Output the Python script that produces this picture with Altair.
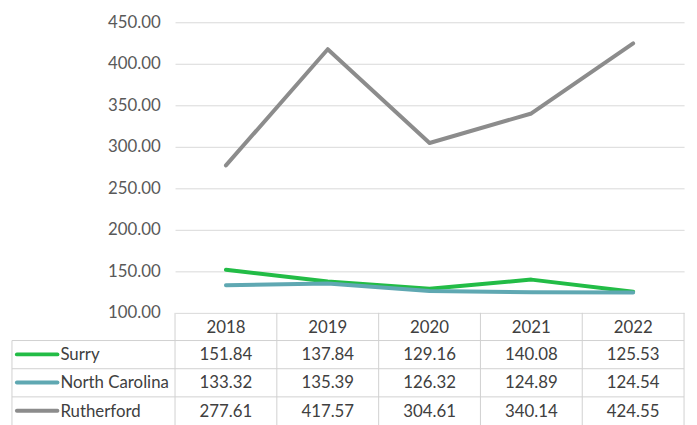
import altair as alt
import pandas as pd

years = [2018, 2019, 2020, 2021, 2022]
series = ["Surry", "North Carolina", "Rutherford"]
surry = [151.84, 137.84, 129.16, 140.08, 125.53]
north_carolina = [133.32, 135.39, 126.32, 124.89, 124.54]
rutherford = [277.61, 417.57, 304.61, 340.14, 424.55]
colors = ["#22BC46", "#5FA8B2", "#8C8C8C"]
y_ticks = [100, 150, 200, 250, 300, 350, 400, 450]

values_by_series = [surry, north_carolina, rutherford]

W, H = 515, 294
FONT = "Lato"
FS = 17
TABLE_LINE = "#D0D0D0"
TEXT = "#404040"

xscale = alt.Scale(domain=[years[0] - 0.5, years[-1] + 0.5], nice=False, zero=False)
yscale = alt.Scale(domain=[y_ticks[0], y_ticks[-1]], nice=False, zero=False)

# table geometry (pixels relative to plot area)
row_top = [H, H + 28, H + 56.5, H + 85]
row_mid = [H + 15, H + 43, H + 71.5, H + 100]
left_edge = -165
bottom = H + 130

layers = []

axis_df = pd.DataFrame({"v": y_ticks})
axis_layer = alt.Chart(axis_df).mark_point(opacity=0).encode(
    x=alt.value(0),
    y=alt.Y("v:Q", scale=yscale, title=None,
            axis=alt.Axis(values=y_ticks, format=".2f", grid=True, gridColor="#D9D9D9",
                          gridWidth=1, domain=False, ticks=False, labelPadding=15,
                          labelFont=FONT, labelFontSize=FS, labelColor="#595959")),
)
layers.append(axis_layer)

# table vertical lines
bounds = pd.DataFrame({"b": [y - 0.5 for y in years] + [years[-1] + 0.5]})
layers.append(alt.Chart(bounds).mark_rule(color=TABLE_LINE, strokeWidth=1).encode(
    x=alt.X("b:Q", scale=xscale, axis=None), y=alt.value(row_top[0]), y2=alt.value(bottom)))
layers.append(alt.Chart(pd.DataFrame({"a": [0]})).mark_rule(color=TABLE_LINE, strokeWidth=1).encode(
    x=alt.value(left_edge), y=alt.value(row_top[1]), y2=alt.value(bottom)))
# table horizontal lines
for yy in row_top[1:]:
    layers.append(alt.Chart(pd.DataFrame({"a": [0]})).mark_rule(color=TABLE_LINE, strokeWidth=1).encode(
        x=alt.value(left_edge), x2=alt.value(W), y=alt.value(yy)))

# header years
hdr = pd.DataFrame({"year": years, "label": [str(y) for y in years]})
layers.append(alt.Chart(hdr).mark_text(font=FONT, fontSize=FS, color=TEXT, baseline="middle").encode(
    x=alt.X("year:Q", scale=xscale, axis=None), y=alt.value(row_mid[0]), text="label:N"))

# lines, table values, legend keys
for i, (s, vals) in enumerate(zip(series, values_by_series)):
    d = pd.DataFrame({"year": years, "value": vals, "label": [f"{v:.2f}" for v in vals]})
    layers.append(alt.Chart(d).mark_line(color=colors[i], strokeWidth=4, strokeCap="round",
                                         strokeJoin="round").encode(
        x=alt.X("year:Q", scale=xscale, axis=None),
        y=alt.Y("value:Q", scale=yscale)))
    layers.append(alt.Chart(d).mark_text(font=FONT, fontSize=FS, color=TEXT, baseline="middle").encode(
        x=alt.X("year:Q", scale=xscale, axis=None), y=alt.value(row_mid[i + 1]), text="label:N"))
    ld = pd.DataFrame({"series": [s]})
    layers.append(alt.Chart(ld).mark_rule(color=colors[i], strokeWidth=4, strokeCap="round").encode(
        x=alt.value(-160), x2=alt.value(-119), y=alt.value(row_mid[i + 1] - 1)))
    layers.append(alt.Chart(ld).mark_text(font=FONT, fontSize=FS, color=TEXT, align="left",
                                          baseline="middle").encode(
        x=alt.value(-116), y=alt.value(row_mid[i + 1]), text="series:N"))

chart = alt.layer(*layers).properties(
    width=W, height=H,
    autosize=alt.AutoSizeParams(type="none"),
    padding={"left": 169, "top": 12, "right": 5, "bottom": 111},
    background="white",
).configure_view(stroke=None)

chart.save("out.html", embed_options={"renderer": "svg", "actions": False})
